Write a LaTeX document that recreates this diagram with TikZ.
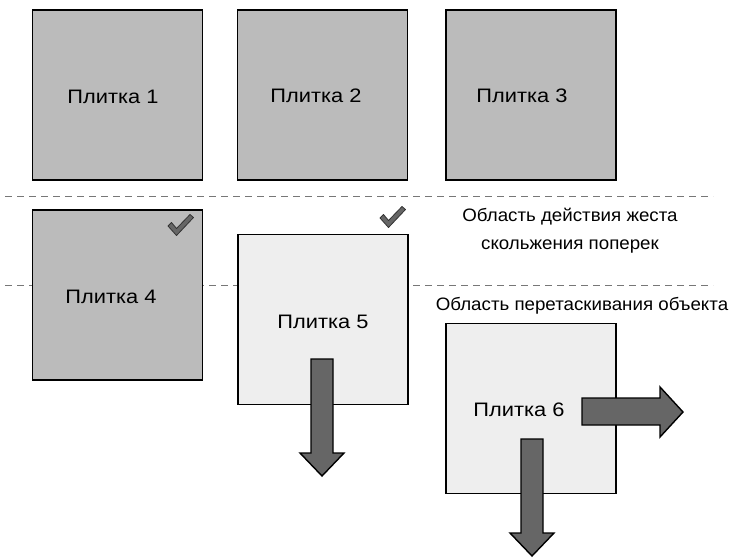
\documentclass[tikz,border=0pt]{standalone}
\usepackage{fontspec}
\setmainfont{Liberation Sans}
\newfontfamily\tilefont[FakeStretch=1.12]{Liberation Sans}
\newfontfamily\areafont[FakeStretch=1.04]{Liberation Sans}
\definecolor{tiledark}{HTML}{BBBBBB}
\definecolor{tilelight}{HTML}{EEEEEE}
\definecolor{arrowfill}{HTML}{666666}
\definecolor{dashgray}{HTML}{777777}
\begin{document}
\begin{tikzpicture}[x=1pt,y=-1pt,
  darktile/.style={draw=black,line width=1.6pt,fill=tiledark,minimum width=170pt,minimum height=170pt,inner sep=0pt},
  lighttile/.style={draw=black,line width=1.6pt,fill=tilelight,minimum width=170pt,minimum height=170pt,inner sep=0pt},
  sepline/.style={draw=dashgray,line width=1pt,dash pattern=on 7pt off 5pt},
  arealabel/.style={font=\areafont\fontsize{18}{22}\selectfont,inner sep=0pt,anchor=base},
  bigarrow/.style={draw=black,line width=1.4pt,fill=arrowfill,line join=miter},
  checkmark/.style={draw=black!80,line width=0.8pt,fill=arrowfill,line join=round},
  tiletext/.style={inner sep=0pt,font=\tilefont\fontsize{19.5}{22}\selectfont}
]
\useasboundingbox (0,0) rectangle (731,557);
% separators
\coordinate (s1a) at (5,196); \coordinate (s1b) at (713,196);
\coordinate (s2a) at (5,285); \coordinate (s2b) at (713,285);
\draw[sepline] (s1a) -- (s1b);
\draw[sepline] (s2a) -- (s2b);
% tiles
\node[darktile] (t1) at (117.5,95) {};
\node[darktile] (t2) at (322.5,95) {};
\node[darktile] (t3) at (531,95) {};
\node[darktile] (t4) at (117.5,295) {};
\node[lighttile] (t5) at (323,319.5) {};
\node[lighttile] (t6) at (531,408.5) {};
\node[tiletext] (l1) at (113,97) {Плитка 1};
\node[tiletext] (l2) at (316,96) {Плитка 2};
\node[tiletext] (l3) at (522,96) {Плитка 3};
\node[tiletext] (l4) at (111,297) {Плитка 4};
\node[tiletext] (l5) at (323,322) {Плитка 5};
\node[tiletext] (l6) at (519,410) {Плитка 6};
% area labels
\node[arealabel] (a1) at (570,221) {Область действия жеста};
\node[arealabel] (a1b) at (570,249) {скольжения поперек};
\node[arealabel] (a2) at (582,310) {Область перетаскивания объекта};
% arrows
\draw[bigarrow] (311,359) -- (333,359) -- (333,453) -- (344,453) -- (322,476) -- (300,453) -- (311,453) -- cycle;
\draw[bigarrow] (521,439) -- (543,439) -- (543,533) -- (554,533) -- (532,556) -- (510,533) -- (521,533) -- cycle;
\draw[bigarrow] (582,398) -- (660,398) -- (660,387) -- (683,412) -- (660,437) -- (660,425) -- (582,425) -- cycle;
% checkmarks
\draw[checkmark] (168,226) -- (171.5,222.5) -- (176.5,228.5) -- (190,214.5) -- (193.5,217.5) -- (176.5,235.5) -- cycle;
\draw[checkmark] (380,218) -- (383.5,214.5) -- (388.5,220.5) -- (402,206.5) -- (405.5,209.5) -- (388.5,227.5) -- cycle;
\end{tikzpicture}
\end{document}
